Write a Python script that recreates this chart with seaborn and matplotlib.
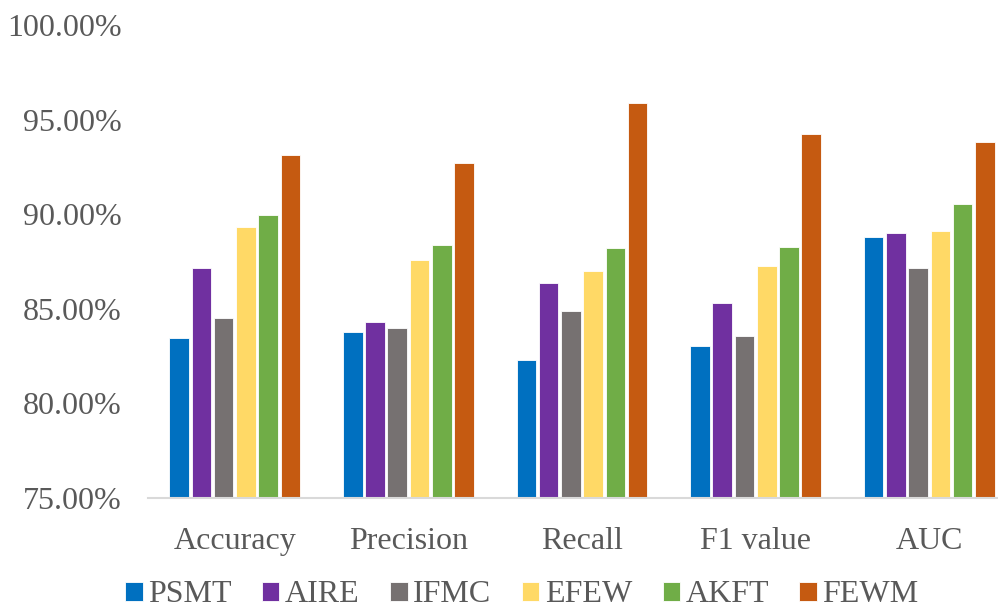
import matplotlib
matplotlib.use("Agg")
import matplotlib.pyplot as plt
import matplotlib.ticker as mticker
import pandas as pd
import seaborn as sns

# Data (percent)
metrics = ['Accuracy', 'Precision', 'Recall', 'F1 value', 'AUC']
methods = ['PSMT', 'AIRE', 'IFMC', 'EFEW', 'AKFT', 'FEWM']
psmt = [83.46, 83.80, 82.30, 83.04, 88.77]
aire = [87.17, 84.28, 86.35, 85.32, 89.02]
ifmc = [84.54, 83.96, 84.89, 83.54, 87.17]
efew = [89.33, 87.60, 87.00, 87.25, 89.10]
akft = [89.95, 88.35, 88.19, 88.26, 90.56]
fewm = [93.14, 92.72, 95.86, 94.25, 93.80]
colors = ['#0070C0', '#7030A0', '#767171', '#FFD966', '#70AD47', '#C55A11']

series = [psmt, aire, ifmc, efew, akft, fewm]
df = pd.DataFrame({
    'metric': [m for _ in methods for m in metrics],
    'method': [name for name in methods for _ in metrics],
    'value': [v for s in series for v in s],
})

sns.set_style('white')
plt.rcParams['font.family'] = ['Liberation Serif', 'DejaVu Serif']

fig = plt.figure(figsize=(9.98, 6.10), dpi=100)
ax = fig.add_axes([148 / 998, 112 / 610, 868 / 998, 473 / 610])

sns.barplot(data=df, x='metric', y='value', hue='method', order=metrics,
            hue_order=methods, palette=colors, saturation=1, width=0.77,
            gap=0.12, edgecolor='white', linewidth=0.6, ax=ax)

ax.set_ylim(75, 100)
ax.set_yticks([75, 80, 85, 90, 95, 100])
ax.yaxis.set_major_formatter(mticker.FuncFormatter(lambda v, p: f'{v:.2f}%'))
ax.set_xlabel('')
ax.set_ylabel('')
ax.tick_params(axis='both', length=0, labelsize=23, labelcolor='#595959')
ax.tick_params(axis='y', pad=19)
ax.tick_params(axis='x', pad=21)
for s in ['top', 'right', 'left']:
    ax.spines[s].set_visible(False)
ax.spines['bottom'].set_color('#D9D9D9')
ax.spines['bottom'].set_linewidth(1.5)
ax.set_xlim(-0.5, 4.5)

ax.legend(loc='center', bbox_to_anchor=(522 / 998, 15 / 610),
          bbox_transform=fig.transFigure, ncol=6, frameon=False,
          fontsize=23, labelcolor='#595959', handlelength=0.54,
          handleheight=0.54, handletextpad=0.18, columnspacing=0.95,
          borderaxespad=0, borderpad=0)

fig.savefig('out.png', dpi=100)
